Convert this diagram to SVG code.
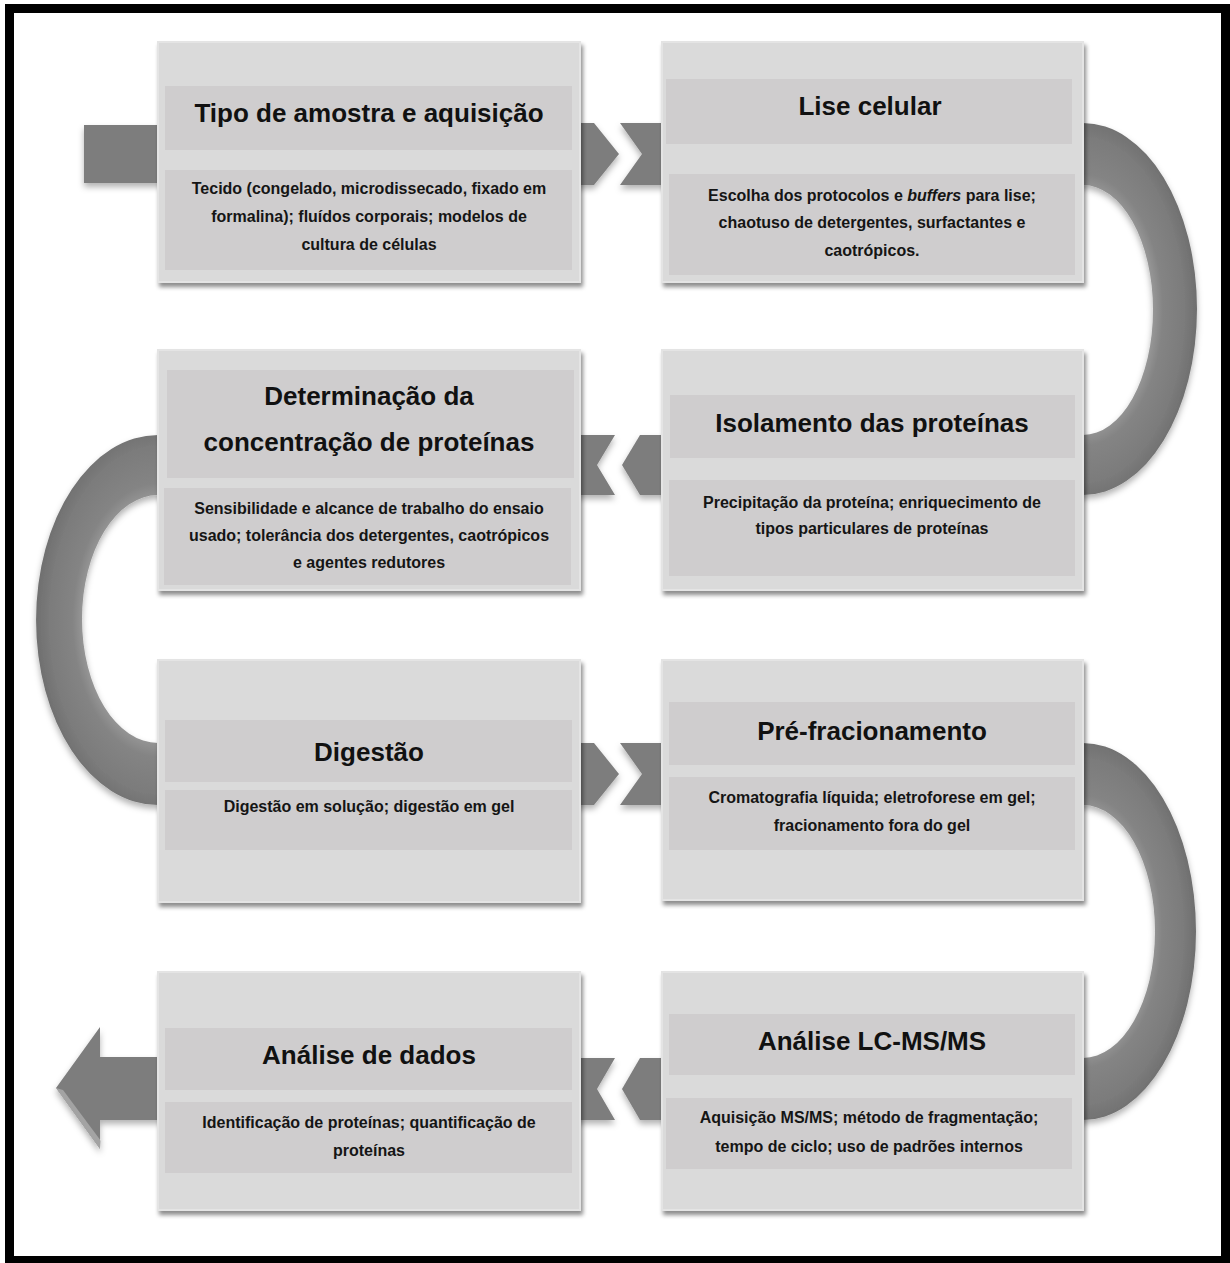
<svg xmlns="http://www.w3.org/2000/svg" width="1230" height="1263" viewBox="0 0 1230 1263">
<defs>
<filter id="bs" x="-5%" y="-5%" width="112%" height="115%"><feDropShadow dx="2" dy="4" stdDeviation="2.2" flood-color="#000" flood-opacity="0.45"/></filter>
<filter id="cs" x="-10%" y="-10%" width="120%" height="130%"><feDropShadow dx="0" dy="4" stdDeviation="3" flood-color="#000" flood-opacity="0.3"/></filter>
<radialGradient id="g1" gradientUnits="userSpaceOnUse" cx="1083" cy="310" r="114" gradientTransform="translate(1083 310) scale(1 1.7) translate(-1083 -310)">
<stop offset="0.6" stop-color="#9a9a9a"/><stop offset="0.7" stop-color="#848484"/><stop offset="0.88" stop-color="#7c7c7c"/><stop offset="1" stop-color="#6f6f6f"/>
</radialGradient>
<radialGradient id="g2" gradientUnits="userSpaceOnUse" cx="158" cy="620" r="122" gradientTransform="translate(158 620) scale(1 1.6) translate(-158 -620)">
<stop offset="0.6" stop-color="#9a9a9a"/><stop offset="0.7" stop-color="#848484"/><stop offset="0.88" stop-color="#7c7c7c"/><stop offset="1" stop-color="#6f6f6f"/>
</radialGradient>
<radialGradient id="g3" gradientUnits="userSpaceOnUse" cx="1083" cy="931.5" r="113" gradientTransform="translate(1083 931.5) scale(1 1.72) translate(-1083 -931.5)">
<stop offset="0.6" stop-color="#9a9a9a"/><stop offset="0.7" stop-color="#848484"/><stop offset="0.88" stop-color="#7c7c7c"/><stop offset="1" stop-color="#6f6f6f"/>
</radialGradient>
<style>
.box{fill:#dadada;stroke:#e4e4e4;stroke-width:2;filter:url(#bs)}
.band{fill:#cfcdce}
.con{fill:#7d7d7d}
.t{font-family:"Liberation Sans",Arial,sans-serif;font-weight:bold;font-size:26px;fill:#111;text-anchor:middle}
.b{font-family:"Liberation Sans",Arial,sans-serif;font-weight:bold;font-size:16px;fill:#151515;text-anchor:middle}
</style>
</defs>
<rect x="0" y="0" width="1230" height="1263" fill="#fff"/>
<rect x="9.5" y="8.5" width="1216" height="1252" fill="none" stroke="#000" stroke-width="9"/>
<g id="connectors" filter="url(#cs)">
<rect class="con" x="84" y="125" width="90" height="58"/>
<polygon class="con" points="570,123 594,123 619,154 594,185 570,185"/>
<polygon class="con" points="620,123 670,123 670,185 620,185 642,154"/>
<path fill="url(#g1)" d="M1060 123 L1083 123 A114 186 0 0 1 1083 495 L1060 495 L1060 435 L1083 435 A70 125 0 0 0 1083 185 L1060 185 Z"/>
<polygon class="con" points="622,465 640,435 670,435 670,495 640,495"/>
<polygon class="con" points="570,435 615,435 597,465 615,495 570,495"/>
<path fill="url(#g2)" d="M180 435 L158 435 A122 185 0 0 0 158 805 L180 805 L180 743 L158 743 A76 124 0 0 1 158 495 L180 495 Z"/>
<polygon class="con" points="570,743 594,743 619,774 594,805 570,805"/>
<polygon class="con" points="620,743 670,743 670,805 620,805 642,774"/>
<path fill="url(#g3)" d="M1060 743 L1083 743 A113 188.5 0 0 1 1083 1120 L1060 1120 L1060 1058 L1083 1058 A72 126.5 0 0 0 1083 805 L1060 805 Z"/>
<polygon class="con" points="622,1089 640,1058 670,1058 670,1120 640,1120"/>
<polygon class="con" points="570,1058 615,1058 597,1089 615,1120 570,1120"/>
<polygon class="con" points="170,1057 100,1057 100,1027 56,1088 100,1149 100,1120 170,1120"/>
<polygon fill="#b4b4b4" opacity="0.7" points="56,1088 63,1090 101,1141 100,1149"/>
</g>
<g id="n1">
<rect class="box" x="158" y="42" width="422" height="240"/>
<rect class="band" x="165" y="86" width="407" height="64"/>
<rect class="band" x="165" y="170" width="407" height="100"/>
<text class="t" x="369" y="122">Tipo de amostra e aquisição</text>
<text class="b" x="369" y="194">Tecido (congelado, microdissecado, fixado em</text>
<text class="b" x="369" y="222">formalina); fluídos corporais; modelos de</text>
<text class="b" x="369" y="250">cultura de células</text>
</g>
<g id="n2">
<rect class="box" x="662" y="42" width="421" height="240"/>
<rect class="band" x="666" y="79" width="406" height="65"/>
<rect class="band" x="669" y="174" width="406" height="101"/>
<text class="t" x="870" y="115">Lise celular</text>
<text class="b" x="872" y="201">Escolha dos protocolos e <tspan font-style="italic">buffers</tspan> para lise;</text>
<text class="b" x="872" y="228">chaotuso de detergentes, surfactantes e</text>
<text class="b" x="872" y="256">caotrópicos.</text>
</g>
<g id="n3">
<rect class="box" x="158" y="350" width="422" height="240"/>
<rect class="band" x="167" y="370" width="407" height="108"/>
<rect class="band" x="164" y="488" width="407" height="97"/>
<text class="t" x="369" y="405">Determinação da</text>
<text class="t" x="369" y="451">concentração de proteínas</text>
<text class="b" x="369" y="514">Sensibilidade e alcance de trabalho do ensaio</text>
<text class="b" x="369" y="541">usado; tolerância dos detergentes, caotrópicos</text>
<text class="b" x="369" y="568">e agentes redutores</text>
</g>
<g id="n4">
<rect class="box" x="662" y="350" width="421" height="240"/>
<rect class="band" x="670" y="395" width="405" height="63"/>
<rect class="band" x="669" y="480" width="406" height="96"/>
<text class="t" x="872" y="432">Isolamento das proteínas</text>
<text class="b" x="872" y="508">Precipitação da proteína; enriquecimento de</text>
<text class="b" x="872" y="534">tipos particulares de proteínas</text>
</g>
<g id="n5">
<rect class="box" x="158" y="660" width="422" height="242"/>
<rect class="band" x="165" y="720" width="407" height="62"/>
<rect class="band" x="165" y="790" width="407" height="60"/>
<text class="t" x="369" y="761">Digestão</text>
<text class="b" x="369" y="812">Digestão em solução; digestão em gel</text>
</g>
<g id="n6">
<rect class="box" x="662" y="660" width="421" height="240"/>
<rect class="band" x="669" y="702" width="406" height="63"/>
<rect class="band" x="669" y="777" width="406" height="73"/>
<text class="t" x="872" y="740">Pré-fracionamento</text>
<text class="b" x="872" y="803">Cromatografia líquida; eletroforese em gel;</text>
<text class="b" x="872" y="831">fracionamento fora do gel</text>
</g>
<g id="n7">
<rect class="box" x="158" y="972" width="422" height="238"/>
<rect class="band" x="165" y="1028" width="407" height="62"/>
<rect class="band" x="165" y="1102" width="407" height="71"/>
<text class="t" x="369" y="1064">Análise de dados</text>
<text class="b" x="369" y="1128">Identificação de proteínas; quantificação de</text>
<text class="b" x="369" y="1156">proteínas</text>
</g>
<g id="n8">
<rect class="box" x="662" y="972" width="421" height="238"/>
<rect class="band" x="669" y="1014" width="406" height="61"/>
<rect class="band" x="666" y="1098" width="406" height="71"/>
<text class="t" x="872" y="1050">Análise LC-MS/MS</text>
<text class="b" x="869" y="1123">Aquisição MS/MS; método de fragmentação;</text>
<text class="b" x="869" y="1152">tempo de ciclo; uso de padrões internos</text>
</g>
</svg>
